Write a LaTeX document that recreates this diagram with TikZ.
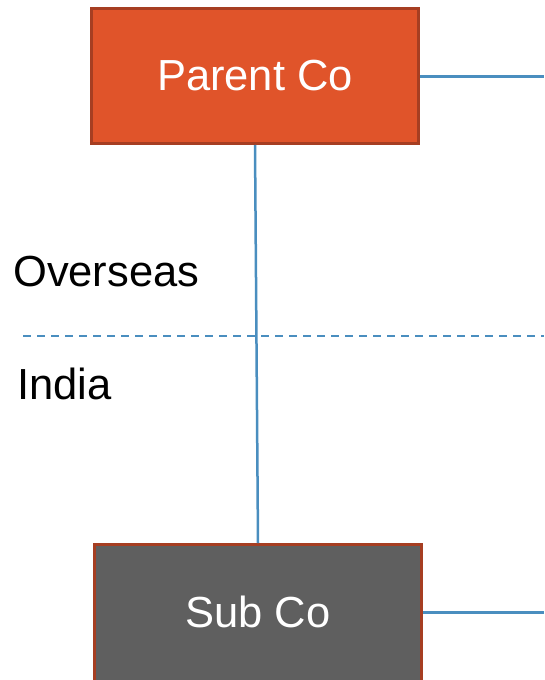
\documentclass[tikz,border=0pt]{standalone}
\usepackage{fontspec}
\setmainfont{Liberation Sans}
\definecolor{parentfill}{HTML}{E0542A}
\definecolor{boxedge}{HTML}{A63E22}
\definecolor{subfill}{HTML}{5F5F5F}
\definecolor{linkblue}{HTML}{4A8EBF}
\begin{document}
\begin{tikzpicture}[x=1pt,y=-1pt,
  entity/.style={draw=boxedge, line width=3pt, minimum width=327pt,
    inner sep=0pt, text=white, font=\fontsize{43.5}{52}\selectfont},
  link/.style={draw=linkblue, line width=2.5pt},
  region/.style={font=\fontsize{43.5}{52}\selectfont, anchor=base west, inner sep=0pt}]
  \useasboundingbox (0,0) rectangle (544,680);
  % entities (the lower box runs on below the page edge)
  \node[entity, fill=parentfill, minimum height=135pt] (parent) at (255,76) {Parent Co};
  \node[entity, fill=subfill, minimum height=151pt] (sub) at (258,620) {};
  \node[text=white, font=\fontsize{43.5}{52}\selectfont, inner sep=0pt] (sublabel) at (258,612) {Sub Co};
  % jurisdiction labels
  \node[region] (overseas) at (13,286) {Overseas};
  \node[region] (india) at (17,399) {India};
  % border between jurisdictions
  \coordinate (bl) at (23,336);
  \coordinate (br) at (544,336);
  \draw[link, dash pattern=on 8pt off 6pt] (bl) -- (br);
  % ownership links
  \coordinate (pout) at (544,76);
  \coordinate (sout) at (544,612);
  \draw[link] (parent.south) -- (sub.north);
  \draw[link, line width=3pt] (parent.east) -- (pout);
  \draw[link, line width=3pt] (sout -| sub.east) -- (sout);
\end{tikzpicture}
\end{document}
